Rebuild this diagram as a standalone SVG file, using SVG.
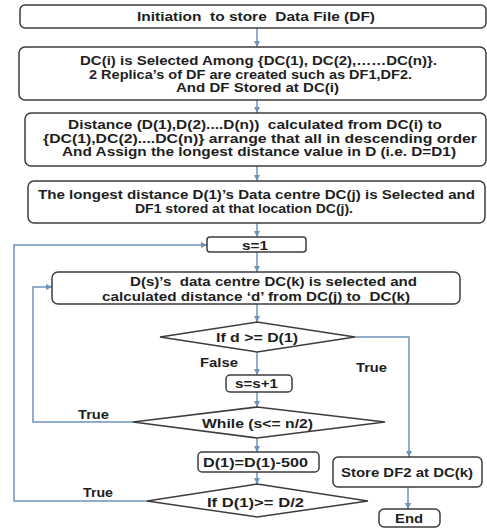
<svg xmlns="http://www.w3.org/2000/svg" width="487" height="529" viewBox="0 0 487 529">
<style>
.box{fill:#fff;stroke:#3c3c3c;stroke-width:1.5}
.t{font-family:"Liberation Sans",Arial,sans-serif;font-weight:bold;font-size:13px;fill:#1e1e1e;white-space:pre}
.s{font-size:12px}
.c{fill:none;stroke:#6d93bb;stroke-width:1.5}
</style>
<defs>
<marker id="ah" markerUnits="userSpaceOnUse" markerWidth="7" markerHeight="7" refX="6" refY="3.5" orient="auto">
<path d="M0,0.5 L6,3.5 L0,6.5 z" fill="#6d93bb"/>
</marker>
</defs>
<rect width="487" height="529" fill="#fff"/>
<g id="connectors">
<path class="c" d="M257,28 V47" marker-end="url(#ah)"/>
<path class="c" d="M257,100 V113" marker-end="url(#ah)"/>
<path class="c" d="M257,166 V181" marker-end="url(#ah)"/>
<path class="c" d="M257,223 V237" marker-end="url(#ah)"/>
<path class="c" d="M257,252 V272" marker-end="url(#ah)"/>
<path class="c" d="M257,304 V322" marker-end="url(#ah)"/>
<path class="c" d="M257,352 V375" marker-end="url(#ah)"/>
<path class="c" d="M257,392 V407" marker-end="url(#ah)"/>
<path class="c" d="M257,438 V452" marker-end="url(#ah)"/>
<path class="c" d="M257,472 V484" marker-end="url(#ah)"/>
<path class="c" d="M355,337 H409 V457" marker-end="url(#ah)"/>
<path class="c" d="M408,487 V509" marker-end="url(#ah)"/>
<path class="c" d="M133,422 H33 V287 H52" marker-end="url(#ah)"/>
<path class="c" d="M147,501 H14 V245 H207" marker-end="url(#ah)"/>
<text class="t" x="200" y="366.5" textLength="38" lengthAdjust="spacingAndGlyphs">False</text>
<text class="t" x="356" y="371.5" textLength="31" lengthAdjust="spacingAndGlyphs">True</text>
<text class="t" x="78" y="418.5" textLength="31" lengthAdjust="spacingAndGlyphs">True</text>
<text class="t" x="83" y="496.5" textLength="30" lengthAdjust="spacingAndGlyphs">True</text>
</g>
<g id="n1">
<rect class="box" x="20" y="5" width="466" height="23" rx="5"/>
<text class="t" x="137" y="21" textLength="238" lengthAdjust="spacingAndGlyphs">Initiation  to store  Data File (DF)</text>
</g>
<g id="n2">
<rect class="box" x="19" y="47" width="467" height="53" rx="6"/>
<text class="t" x="80" y="64.5" textLength="357" lengthAdjust="spacingAndGlyphs">DC(i) is Selected Among {DC(1), DC(2),……DC(n)}.</text>
<text class="t" x="89" y="78.5" textLength="323" lengthAdjust="spacingAndGlyphs">2 Replica’s of DF are created such as DF1,DF2.</text>
<text class="t" x="176" y="92" textLength="163" lengthAdjust="spacingAndGlyphs">And DF Stored at DC(i)</text>
</g>
<g id="n3">
<rect class="box" x="25" y="113" width="461" height="53" rx="6"/>
<text class="t s" x="68" y="129" textLength="374" lengthAdjust="spacingAndGlyphs">Distance (D(1),D(2)....D(n))  calculated from DC(i) to</text>
<text class="t s" x="43" y="142.5" textLength="434" lengthAdjust="spacingAndGlyphs">{DC(1),DC(2)....DC(n)} arrange that all in descending order</text>
<text class="t s" x="62" y="156" textLength="394" lengthAdjust="spacingAndGlyphs">And Assign the longest distance value in D (i.e. D=D1)</text>
</g>
<g id="n4">
<rect class="box" x="28" y="181" width="457" height="42" rx="6"/>
<text class="t" x="38" y="198.5" textLength="437" lengthAdjust="spacingAndGlyphs">The longest distance D(1)’s Data centre DC(j) is Selected and</text>
<text class="t" x="135" y="212.5" textLength="218" lengthAdjust="spacingAndGlyphs">DF1 stored at that location DC(j).</text>
</g>
<g id="n5">
<rect class="box" x="207" y="237" width="99" height="15" rx="3"/>
<text class="t" x="242" y="249.5" textLength="26" lengthAdjust="spacingAndGlyphs">s=1</text>
</g>
<g id="n6">
<rect class="box" x="52" y="272" width="408" height="32" rx="6"/>
<text class="t" x="130" y="285.5" textLength="287" lengthAdjust="spacingAndGlyphs">D(s)’s  data centre DC(k) is selected and</text>
<text class="t" x="102" y="300.5" textLength="308" lengthAdjust="spacingAndGlyphs">calculated distance ‘d’ from DC(j) to  DC(k)</text>
</g>
<g id="n7">
<polygon class="box" points="160,337 257,322 355,337 257,352"/>
<text class="t" x="216" y="341.5" textLength="82" lengthAdjust="spacingAndGlyphs">If d &gt;= D(1)</text>
</g>
<g id="n8">
<rect class="box" x="226" y="375" width="66" height="17" rx="4"/>
<text class="t" x="235" y="387.5" textLength="43" lengthAdjust="spacingAndGlyphs">s=s+1</text>
</g>
<g id="n9">
<polygon class="box" points="133,422 257,407 385,422 257,438"/>
<text class="t" x="202" y="427.5" textLength="111" lengthAdjust="spacingAndGlyphs">While (s&lt;= n/2)</text>
</g>
<g id="n10">
<rect class="box" x="198" y="452" width="121" height="20" rx="4"/>
<text class="t" x="203" y="466.5" textLength="105" lengthAdjust="spacingAndGlyphs">D(1)=D(1)-500</text>
</g>
<g id="n11">
<polygon class="box" points="147,501 257,484 368,501 257,517"/>
<text class="t" x="207" y="506.5" textLength="97" lengthAdjust="spacingAndGlyphs">If D(1)&gt;= D/2</text>
</g>
<g id="n12">
<rect class="box" x="333" y="457" width="149" height="30" rx="5"/>
<text class="t" x="341" y="476.5" textLength="132" lengthAdjust="spacingAndGlyphs">Store DF2 at DC(k)</text>
</g>
<g id="n13">
<rect class="box" x="379" y="509" width="61" height="18" rx="5"/>
<text class="t" x="395" y="522.5" textLength="28" lengthAdjust="spacingAndGlyphs">End</text>
</g>
</svg>
